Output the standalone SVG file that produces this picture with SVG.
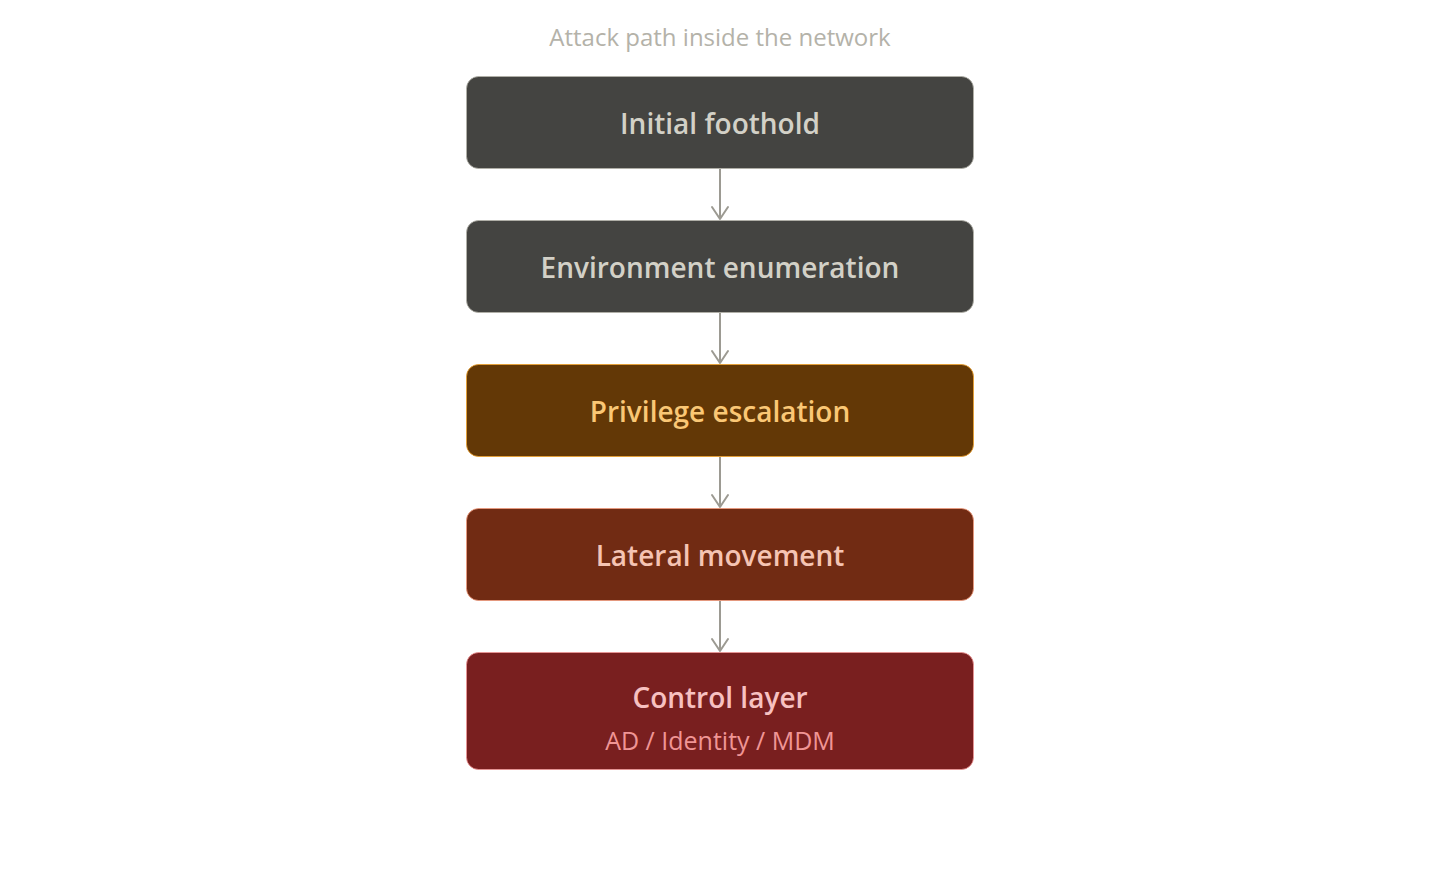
<svg xmlns="http://www.w3.org/2000/svg" width="1440" height="890" viewBox="0 0 1440 890">
<style>
text{font-family:"Open Sans","Noto Sans","Liberation Sans",sans-serif;text-anchor:middle}
.t{font-size:28px;font-weight:600}
.s{font-size:25px;font-weight:400}
.title{font-size:24px;fill:#B4B2A9}
.conn{stroke:#9C9A92;stroke-width:2;fill:none}
</style>
<defs>
<marker id="arr" viewBox="0 0 20 20" refX="18" refY="10" markerWidth="20" markerHeight="20" markerUnits="userSpaceOnUse" orient="auto">
<path d="M6,2 L18,10 L6,18" fill="none" stroke="#9C9A92" stroke-width="2" stroke-linecap="round" stroke-linejoin="round"/>
</marker>
</defs>
<rect width="1440" height="890" fill="#FFFFFF"/>
<text class="title" x="720" y="46">Attack path inside the network</text>
<g id="connectors">
<line class="conn" x1="720" y1="169" x2="720" y2="219" marker-end="url(#arr)"/>
<line class="conn" x1="720" y1="313" x2="720" y2="363" marker-end="url(#arr)"/>
<line class="conn" x1="720" y1="457" x2="720" y2="507" marker-end="url(#arr)"/>
<line class="conn" x1="720" y1="601" x2="720" y2="651" marker-end="url(#arr)"/>
</g>
<g id="initial-foothold">
<rect x="466.5" y="76.5" width="507" height="92" rx="12" fill="#444441" stroke="#B4B2A9" stroke-width="0.8"/>
<text class="t" x="720" y="134" fill="#D3D1C7">Initial foothold</text>
</g>
<g id="environment-enumeration">
<rect x="466.5" y="220.5" width="507" height="92" rx="12" fill="#444441" stroke="#B4B2A9" stroke-width="0.8"/>
<text class="t" x="720" y="278" fill="#D3D1C7">Environment enumeration</text>
</g>
<g id="privilege-escalation">
<rect x="466.5" y="364.5" width="507" height="92" rx="12" fill="#633806" stroke="#EF9F27" stroke-width="0.8"/>
<text class="t" x="720" y="422" fill="#FAC775">Privilege escalation</text>
</g>
<g id="lateral-movement">
<rect x="466.5" y="508.5" width="507" height="92" rx="12" fill="#712B13" stroke="#F0997B" stroke-width="0.8"/>
<text class="t" x="720" y="566" fill="#F5C4B3">Lateral movement</text>
</g>
<g id="control-layer">
<rect x="466.5" y="652.5" width="507" height="117" rx="12" fill="#791F1F" stroke="#F09595" stroke-width="0.8"/>
<text class="t" x="720" y="708" fill="#F7C1C1">Control layer</text>
<text class="s" x="720" y="750" fill="#F09595">AD / Identity / MDM</text>
</g>
</svg>
